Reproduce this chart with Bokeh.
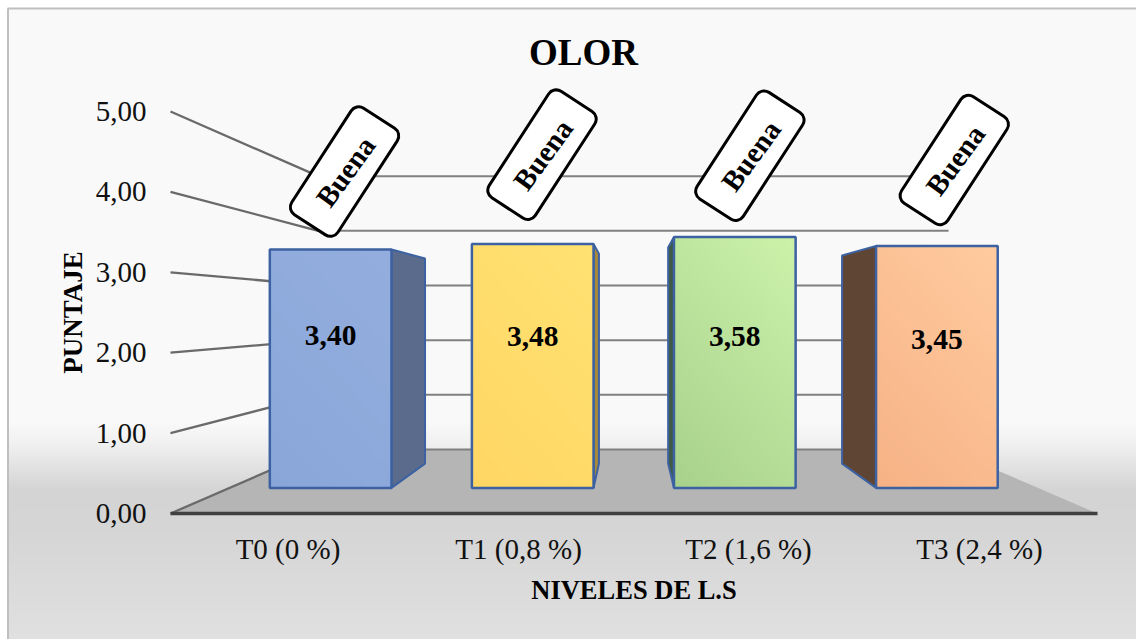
import numpy as np
from bokeh.core.properties import value
from bokeh.embed import file_html
from bokeh.models import FixedTicker, LinearAxis, Range1d
from bokeh.plotting import figure
from bokeh.resources import INLINE

# Chart data
categories = ["T0 (0 %)", "T1 (0,8 %)", "T2 (1,6 %)", "T3 (2,4 %)"]
scores = [3.40, 3.48, 3.58, 3.45]
score_labels = ["3,40", "3,48", "3,58", "3,45"]
ratings = ["Buena", "Buena", "Buena", "Buena"]
y_ticks = [0, 1, 2, 3, 4, 5]
y_tick_labels = ["0,00", "1,00", "2,00", "3,00", "4,00", "5,00"]

# Bar styling
top_colors = ["#93aede", "#ffe272", "#ccf2aa", "#ffcb9f"]
bottom_colors = ["#8aa6d9", "#ffd664", "#a8d18c", "#f6b285"]
side_colors = ["#5a6b8c", "#a88a3a", "#3f5a47", "#5f4534"]
edge_color = "#3d62a2"

# Label placement around each bar
score_label_heights = [2.17, 2.16, 2.16, 2.12]
rating_shift_x = [0.06, 0.04, 0.065, 0.075]
rating_rise = [0.97, 1.11, 1.01, 1.07]
category_label_slots = [0.507, 1.502, 2.494, 3.491]

# Page geometry: one x unit is one category slot on the front edge of the floor,
# one y unit is one score point on the front axis.
WIDTH, HEIGHT = 1136, 639
PX_X = 927 / 4
PX_Y = 80.4
X0_PX, Y0_PX = 170, 513


def px_x(px):
    return (px - X0_PX) / PX_X


def px_y(py):
    return (Y0_PX - py) / PX_Y


# Perspective of the 3D box: depth 0 is the front edge of the floor, depth 1 the back wall.
SHRINK = 0.32
FLOOR_RISE = 0.796
FRONT_DEPTH = 0.40
BACK_DEPTH = 0.78
BAR_HALF = 0.301
VANISH_SLOT = 1.992


def project(slot, score, depth):
    scale = 1 - depth * SHRINK
    return VANISH_SLOT + (slot - VANISH_SLOT) * scale, score * scale + depth * FLOOR_RISE


def lerp_colors(c0, c1, t):
    a = np.array([int(c0[i:i + 2], 16) for i in (1, 3, 5)], dtype=float)
    b = np.array([int(c1[i:i + 2], 16) for i in (1, 3, 5)], dtype=float)
    return a[None] + (b - a)[None] * t[..., None]


def to_rgba(rgb):
    h, w, _ = rgb.shape
    out = np.empty((h, w), dtype=np.uint32)
    view = out.view(dtype=np.uint8).reshape((h, w, 4))
    view[..., :3] = np.round(rgb).astype(np.uint8)
    view[..., 3] = 255
    return out


p = figure(
    width=WIDTH, height=HEIGHT, output_backend="svg", toolbar_location=None,
    x_range=Range1d(px_x(0), px_x(WIDTH)), y_range=Range1d(px_y(HEIGHT), px_y(0)),
    min_border=0, outline_line_color=None, x_axis_location=None, y_axis_location=None,
    background_fill_color="white", border_fill_color="white",
)
p.grid.visible = False

# Chart area background: flat pale grey fading to a darker band, then slightly lighter
stop_y = np.array([0, 415, 440, 482, 520, 631])
stop_v = np.array([249, 249, 238, 212, 213, 224], dtype=float)
rows = np.arange(631, -1, -1)
shade = np.interp(rows, stop_y, stop_v)
bg = np.repeat(shade[:, None, None], 3, axis=2)
p.image_rgba(image=[to_rgba(bg)], x=px_x(8), y=px_y(639), dw=px_x(1136) - px_x(8), dh=px_y(8) - px_y(639))
p.line(x=[px_x(7.5), px_x(7.5)], y=[px_y(639), px_y(8)], line_color="#bfbfbf", line_width=2)
p.line(x=[px_x(7), px_x(1136)], y=[px_y(8), px_y(8)], line_color="#bfbfbf", line_width=2)

# Floor of the 3D box
floor = [project(0, 0, 0), project(4, 0, 0), project(4, 0, 1), project(0, 0, 1)]
p.patch(x=[c[0] for c in floor], y=[c[1] for c in floor], fill_color="#b5b5b5", line_color=None)

# Gridlines on the back and left walls
wall_color = "#808080"
for t in y_ticks:
    back_l, back_r, front = project(0, t, 1), project(4, t, 1), project(0, t, 0)
    p.line(x=[back_l[0], back_r[0]], y=[back_l[1], back_r[1]], line_color=wall_color, line_width=2)
    p.line(x=[front[0], back_l[0]], y=[front[1], back_l[1]], line_color="#6a6a6a", line_width=2.3)

# Bars: a receding side face and a shaded front face
for i, score in enumerate(scores):
    c = i + 0.5
    # Bars left of the centre show their right side, the others their left side
    edge = c + BAR_HALF if c < 2 else c - BAR_HALF
    side = [
        project(edge, 0, FRONT_DEPTH), project(edge, 0, BACK_DEPTH),
        project(edge, score, BACK_DEPTH), project(edge, score, FRONT_DEPTH),
    ]
    p.patch(x=[q[0] for q in side], y=[q[1] for q in side], fill_color=side_colors[i],
            line_color=edge_color, line_width=2)

    x0, y0 = project(c - BAR_HALF, 0, FRONT_DEPTH)
    x1, y1 = project(c + BAR_HALF, score, FRONT_DEPTH)
    u, v = np.meshgrid(np.linspace(0, 1, 60), np.linspace(0, 1, 120))
    face = lerp_colors(bottom_colors[i], top_colors[i], 0.35 * u + 0.65 * v)
    p.image_rgba(image=[to_rgba(face)], x=x0, y=y0, dw=x1 - x0, dh=y1 - y0)
    p.quad(left=x0, right=x1, bottom=y0, top=y1, fill_color=None, line_color=edge_color, line_width=2.5)

    label_x, label_y = project(c, score_label_heights[i], FRONT_DEPTH)
    p.text(x=[label_x], y=[label_y], text=[score_labels[i]],
           text_font=value("Liberation Serif"), text_font_style="bold", text_font_size="29.5px",
           text_align="center", text_baseline="middle", text_color="black")

    # Rating callout tilted above the bar
    bx = project(c, score, FRONT_DEPTH)[0] + rating_shift_x[i]
    by = project(c, score, FRONT_DEPTH)[1] + rating_rise[i]
    p.rect(x=[bx], y=[by], width=127, height=55, width_units="screen", height_units="screen",
           angle=57, angle_units="deg", fill_color="white", line_color="black", line_width=3,
           border_radius=9)
    p.text(x=[bx], y=[by], text=[ratings[i]], angle=54, angle_units="deg", x_offset=1, y_offset=0,
           text_font=value("Liberation Serif"), text_font_style="bold", text_font_size="29px",
           text_align="center", text_baseline="middle", text_color="black")

# Chart title
p.text(x=[px_x(583)], y=[px_y(52)], text=["OLOR"], text_font=value("Liberation Serif"),
       text_font_style="bold", text_font_size="37px", text_align="center",
       text_baseline="middle", text_color="black")

# Axes drawn at fixed data positions inside the full-page frame
y_axis = LinearAxis(
    fixed_location=0, bounds=(0, 5), ticker=FixedTicker(ticks=y_ticks),
    major_label_overrides=dict(zip(y_ticks, y_tick_labels)),
    axis_line_color=None, major_tick_line_color=None, minor_tick_line_color=None,
    major_label_standoff=18, major_label_text_font="Liberation Serif",
    major_label_text_font_size="29px", major_label_text_color="#111111",
    axis_label="PUNTAJE", axis_label_text_font="Liberation Serif", axis_label_text_font_style="bold",
    axis_label_text_font_size="27px", axis_label_text_color="black", axis_label_standoff=5,
)
p.add_layout(y_axis, "left")

x_axis = LinearAxis(
    fixed_location=0, bounds=(0, 4), ticker=FixedTicker(ticks=category_label_slots),
    major_label_overrides=dict(zip(category_label_slots, categories)),
    axis_line_color="#404040", axis_line_width=3.5, major_tick_line_color=None,
    minor_tick_line_color=None, major_label_standoff=13, major_label_text_font="Liberation Serif",
    major_label_text_font_size="29px", major_label_text_color="#111111",
    axis_label="NIVELES DE L.S", axis_label_text_font="Liberation Serif", axis_label_text_font_style="bold",
    axis_label_text_font_size="26.5px", axis_label_text_color="black", axis_label_standoff=7,
)
p.add_layout(x_axis, "below")

open("out.html", "w").write(file_html(p, INLINE))
